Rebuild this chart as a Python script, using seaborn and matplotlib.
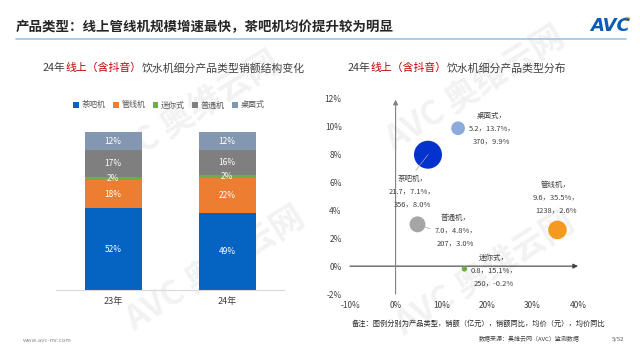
import numpy as np
import pandas as pd
import matplotlib
matplotlib.use('Agg')
import matplotlib.pyplot as plt
import seaborn as sns
from matplotlib.patches import Patch
from matplotlib.ticker import PercentFormatter

# 左图：销额结构（%）
years = ['23年', '24年']
categories = ['茶吧机', '管线机', '迷你式', '普通机', '桌面式']
share_23 = [51.6, 18.0, 2.2, 16.6, 11.6]
share_24 = [48.8, 21.8, 2.3, 15.6, 11.5]
bar_colors = ['#0563C1', '#ED7D31', '#70AD47', '#7F7F7F', '#8497B0']

# 右图：气泡 (销额亿元, 销额同比%, 均价元, 均价同比%)
bubble_cats = ['茶吧机', '桌面式', '管线机', '普通机', '迷你式']
sales = [21.7, 5.2, 9.6, 7.0, 0.8]
sales_yoy = [7.1, 13.7, 35.5, 4.8, 15.1]
price = [356, 370, 1238, 207, 250]
price_yoy = [8.0, 9.9, 2.6, 3.0, -0.2]
bubble_colors = {'茶吧机': '#0432CC', '桌面式': '#8EA9DB', '管线机': '#F59A1E',
                 '普通机': '#A5A5A5', '迷你式': '#70AD47'}
# 标签位置（数据坐标）
label_pos = {'茶吧机': (0.037, 0.0536), '桌面式': (0.211, 0.0986), '管线机': (0.351, 0.0493),
             '普通机': (0.132, 0.0257), '迷你式': (0.215, -0.0029)}

sns.set_theme(style='white')
plt.rcParams['font.family'] = ['Noto Sans CJK SC', 'DejaVu Sans']
plt.rcParams['axes.unicode_minus'] = False

W, H = 640, 360
fig = plt.figure(figsize=(6.4, 3.6), dpi=100)
renderer = fig.canvas.get_renderer()


def fx(x):
    return x / W


def fy(y):
    return 1 - y / H


def text_width(s, size):
    t = fig.text(0, 0, s, fontsize=size)
    w = t.get_window_extent(renderer=renderer).width
    t.remove()
    return w


def colored_text(x, y, parts, size):
    # 按前缀宽度依次摆放不同颜色的文字
    full = ''.join(s for s, _ in parts)
    done = ''
    for s, c in parts:
        rest = full[len(done):]
        off = text_width(done + rest, size) - text_width(rest, size) if done else 0
        fig.text(fx(x + off), fy(y), s, color=c, fontsize=size, va='center', ha='left')
        done += s


# 水印
for (wx, wy) in [(95, 175), (120, 330), (380, 150), (390, 335)]:
    fig.text(fx(wx), fy(wy), 'AVC 奥维云网', rotation=32, fontsize=24, fontweight='bold',
             style='italic', color='#F2F2F2', zorder=-1)

# 页眉
fig.text(fx(16), fy(27), '产品类型：线上管线机规模增速最快，茶吧机均价提升较为明显',
         fontsize=9.7, fontweight='bold', color='#262626', va='center')
fig.add_artist(plt.Line2D([fx(16), fx(626)], [fy(39), fy(39)], color='#9DC3E6', lw=1.2))
fig.text(fx(590), fy(26), 'AVC', fontsize=13, fontweight='bold', style='italic',
         color='#0A5DB4', va='center', family='DejaVu Sans')
fig.add_artist(plt.Circle((fx(627), fy(19)), 0.004, color='#F5A623', transform=fig.transFigure))

# 左图
colored_text(43, 68, [('24年', '#404040'), ('线上（含抖音）', '#C00000'),
                      ('饮水机细分产品类型销额结构变化', '#404040')], 7.8)
axL = fig.add_axes([fx(56), fy(290), fx(228), (290 - 132) / H])
shares = np.array([share_23, share_24])
cum = np.cumsum(shares, axis=1)
for i in reversed(range(len(categories))):
    sns.barplot(x=years, y=cum[:, i], color=bar_colors[i], saturation=1, width=0.5,
                linewidth=0, ax=axL)
for j in range(len(years)):
    for i in range(len(categories)):
        axL.text(j, cum[j, i] - shares[j, i] / 2, f'{shares[j, i]:.0f}%', ha='center',
                 va='center', color='white', fontsize=6)
axL.set_xlim(-0.5, 1.5)
axL.set_ylim(0, 100)
axL.set_yticks([])
axL.tick_params(axis='x', length=0, labelsize=6.5, labelcolor='#404040', pad=5)
for s in ['left', 'right', 'top']:
    axL.spines[s].set_visible(False)
axL.spines['bottom'].set_color('#D9D9D9')
axL.spines['bottom'].set_linewidth(0.8)
axL.set_facecolor('none')
handles = [Patch(facecolor=c, edgecolor='none') for c in bar_colors]
fig.legend(handles, categories, loc='center', bbox_to_anchor=(fx(169), fy(105)), ncol=5,
           frameon=False, fontsize=5.8, handlelength=0.7, handleheight=0.7,
           columnspacing=0.9, handletextpad=0.35, labelcolor='#595959')

# 右图
colored_text(348, 68, [('24年', '#404040'), ('线上（含抖音）', '#C00000'),
                       ('饮水机细分产品类型分布', '#404040')], 7.8)
axR = fig.add_axes([fx(350), fy(294), fx(228), (294 - 99) / H])
df = pd.DataFrame({'cat': bubble_cats, 'sales': sales,
                   'x': np.array(sales_yoy) / 100, 'y': np.array(price_yoy) / 100})
k = 18.7
sns.scatterplot(data=df, x='x', y='y', hue='cat', palette=bubble_colors, size='sales',
                sizes=(min(sales) * k, max(sales) * k), linewidth=0, alpha=1,
                legend=False, ax=axR, zorder=3)
axR.annotate('', xy=(0.40, 0), xytext=(-0.10, 0),
             arrowprops=dict(arrowstyle='-|>', color='#404040', lw=0.8, mutation_scale=7,
                             shrinkA=0, shrinkB=0), zorder=1)
axR.annotate('', xy=(0, 0.1195), xytext=(0, -0.02),
             arrowprops=dict(arrowstyle='-|>', color='#808080', lw=0.8, mutation_scale=7,
                             shrinkA=0, shrinkB=0), zorder=1)
for c, s, g, p, pg in zip(bubble_cats, sales, sales_yoy, price, price_yoy):
    tx, ty = label_pos[c]
    txt = f'{c}，\n{s:.1f}，{g:.1f}%，\n{p}，{pg:.1f}%'
    if c == '茶吧机':
        axR.annotate(txt, xy=(g / 100, pg / 100), xytext=(tx, ty), ha='center', va='center',
                     fontsize=5.4, linespacing=1.8, color='#404040', zorder=4,
                     arrowprops=dict(arrowstyle='-', color='#A6A6A6', lw=0.5,
                                     relpos=(0.5, 1), shrinkA=1, shrinkB=0))
    elif c == '普通机':
        axR.annotate(txt, xy=(g / 100, pg / 100), xytext=(tx, ty), ha='center', va='center',
                     fontsize=5.4, linespacing=1.8, color='#404040', zorder=2,
                     arrowprops=dict(arrowstyle='-', color='#A6A6A6', lw=0.5,
                                     relpos=(0, 0.5), shrinkA=1, shrinkB=0))
    else:
        axR.text(tx, ty, txt, ha='center', va='center', fontsize=5.4, linespacing=1.8,
                 color='#404040', zorder=4)
axR.set_xlim(-0.10, 0.40)
axR.set_ylim(-0.02, 0.12)
axR.set_xticks(np.arange(-0.10, 0.41, 0.10))
axR.set_yticks(np.arange(-0.02, 0.121, 0.02))
axR.xaxis.set_major_formatter(PercentFormatter(1.0, decimals=0))
axR.yaxis.set_major_formatter(PercentFormatter(1.0, decimals=0))
axR.tick_params(length=0, labelsize=6, labelcolor='#404040')
axR.tick_params(axis='y', pad=6)
axR.tick_params(axis='x', pad=5)
axR.set_xlabel('')
axR.set_ylabel('')
for s in axR.spines.values():
    s.set_visible(False)
axR.set_facecolor('none')

# 页脚
fig.text(fx(352), fy(324), '备注：图例分别为产品类型，销额（亿元），销额同比，均价（元），均价同比',
         fontsize=5.2, color='#262626', va='center')
fig.text(fx(479), fy(339), '数据来源：奥维云网（AVC）监测数据', fontsize=4.3,
         color='#404040', va='center')
fig.text(fx(612), fy(339), '5/52', fontsize=4.3, color='#595959', va='center')
fig.text(fx(23), fy(341), 'www.avc-mr.com', fontsize=4.3, color='#8C8C8C', va='center')

fig.savefig('out.png', dpi=100)
